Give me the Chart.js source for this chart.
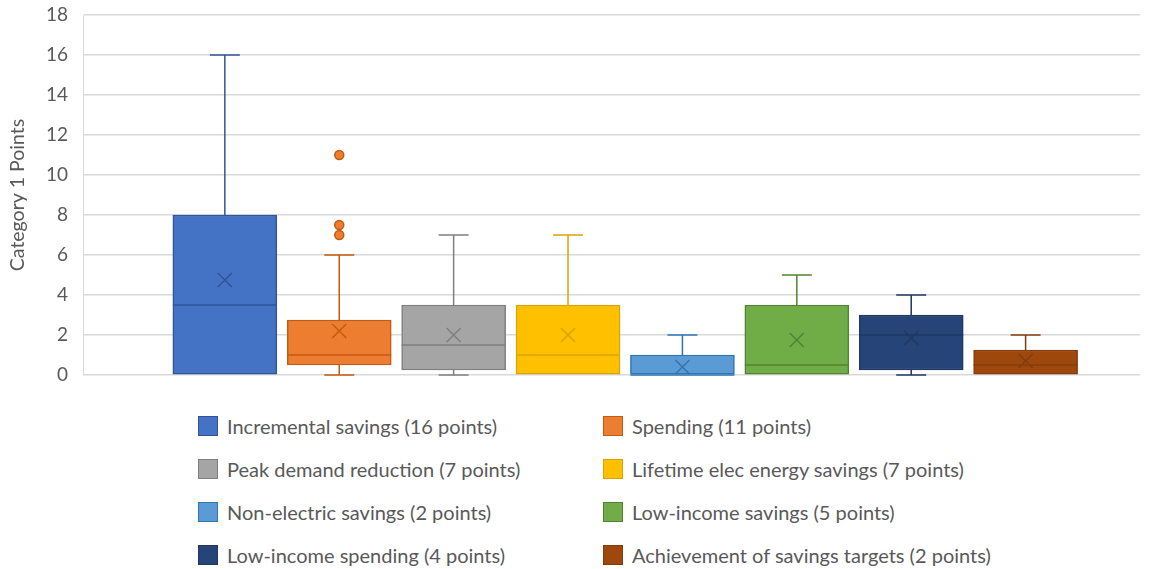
<!DOCTYPE html>
<html>
<head>
<meta charset="utf-8">
<script src="https://cdn.jsdelivr.net/npm/chart.js@4"></script>
<style>
  body { margin: 0; background: #fff; }
  #wrap { position: relative; width: 1169px; height: 569px; }
  #chartBox { position: absolute; left: 0; top: 0; width: 1169px; height: 395px; }
  #legend {
    position: absolute; left: 198px; top: 404px;
    display: grid; grid-template-columns: 405px auto; grid-auto-rows: 43px;
    font-family: Lato, "Open Sans", sans-serif; font-size: 20px; color: #595959;
  }
  .item { display: flex; align-items: center; }
  .swatch { width: 20px; height: 20px; margin-right: 9px; box-sizing: border-box; border: 1px solid; }
</style>
</head>
<body>
<div id="wrap">
  <div id="chartBox"><canvas id="boxChart"></canvas></div>
  <div id="legend"></div>
</div>
<script>
// Box plot stats per series
const seriesLabels = [
  'Incremental savings (16 points)',
  'Spending (11 points)',
  'Peak demand reduction (7 points)',
  'Lifetime elec energy savings (7 points)',
  'Non-electric savings (2 points)',
  'Low-income savings (5 points)',
  'Low-income spending (4 points)',
  'Achievement of savings targets (2 points)'
];
const minVals = [0, 0, 0, 0, 0, 0, 0, 0];
const q1Vals = [0, 0.5, 0.25, 0, 0, 0, 0.25, 0];
const medianVals = [3.5, 1, 1.5, 1, 0, 0.5, 2, 0.5];
const q3Vals = [8, 2.75, 3.5, 3.5, 1, 3.5, 3, 1.25];
const maxVals = [16, 6, 7, 7, 2, 5, 4, 2];
const meanVals = [4.75, 2.2, 2, 2, 0.4, 1.75, 1.85, 0.7];
const outlierVals = [[], [11, 7.5, 7], [], [], [], [], [], []];
const yTicks = [0, 2, 4, 6, 8, 10, 12, 14, 16, 18];

const fillColors = ['#4472C4', '#ED7D31', '#A5A5A5', '#FFC000', '#5B9BD5', '#70AD47', '#264478', '#9E480E'];
const lineColors = ['#2F5597', '#C55A11', '#7F7F7F', '#D9A400', '#2E75B6', '#548235', '#1F3864', '#843C0C'];

// whiskers, medians, means and outliers
const boxExtras = {
  id: 'boxExtras',
  afterDatasetsDraw(chart) {
    const ctx = chart.ctx;
    const y = chart.scales.y;
    chart.data.datasets.forEach((ds, i) => {
      const el = chart.getDatasetMeta(i).data[0];
      if (!el) return;
      const cx = el.x, half = el.width / 2, cap = 15;
      ctx.save();
      ctx.strokeStyle = lineColors[i];
      ctx.lineWidth = 1.5;
      ctx.beginPath();
      // upper whisker
      if (maxVals[i] > q3Vals[i]) {
        ctx.moveTo(cx, y.getPixelForValue(q3Vals[i]));
        ctx.lineTo(cx, y.getPixelForValue(maxVals[i]));
        ctx.moveTo(cx - cap, y.getPixelForValue(maxVals[i]));
        ctx.lineTo(cx + cap, y.getPixelForValue(maxVals[i]));
      }
      // lower whisker
      if (minVals[i] < q1Vals[i]) {
        ctx.moveTo(cx, y.getPixelForValue(q1Vals[i]));
        ctx.lineTo(cx, y.getPixelForValue(minVals[i]));
        ctx.moveTo(cx - cap, y.getPixelForValue(minVals[i]));
        ctx.lineTo(cx + cap, y.getPixelForValue(minVals[i]));
      }
      // median
      const my = y.getPixelForValue(medianVals[i]);
      ctx.moveTo(cx - half, my);
      ctx.lineTo(cx + half, my);
      // mean marker
      const ay = y.getPixelForValue(meanVals[i]), s = 7;
      ctx.moveTo(cx - s, ay - s); ctx.lineTo(cx + s, ay + s);
      ctx.moveTo(cx - s, ay + s); ctx.lineTo(cx + s, ay - s);
      ctx.stroke();
      // outliers
      ctx.fillStyle = fillColors[i];
      outlierVals[i].forEach(v => {
        ctx.beginPath();
        ctx.arc(cx, y.getPixelForValue(v), 4.5, 0, Math.PI * 2);
        ctx.fill();
        ctx.stroke();
      });
      ctx.restore();
    });
  }
};

// one box per series, placed at positions 1..8 on a linear x axis
const datasets = seriesLabels.map((label, i) => ({
  label: label,
  data: [{ x: i + 1, y: [q1Vals[i], q3Vals[i]] }],
  backgroundColor: fillColors[i],
  borderColor: lineColors[i],
  borderWidth: 1.5,
  borderSkipped: false,
  barThickness: 104,
  grouped: false
}));

new Chart(document.getElementById('boxChart'), {
  type: 'bar',
  data: { datasets: datasets },
  options: {
    responsive: true,
    maintainAspectRatio: false,
    animation: false,
    layout: { padding: { top: 15, right: 29, bottom: 20, left: 0 } },
    plugins: { legend: { display: false }, tooltip: { enabled: false } },
    scales: {
      x: { type: 'linear', min: -0.24, max: 9, offset: false, display: false },
      y: {
        min: 0, max: 18,
        afterBuildTicks: s => { s.ticks = yTicks.map(v => ({ value: v })); },
        afterFit: s => { s.width = 83; },
        border: { display: true, color: '#D9D9D9' },
        grid: { color: '#D9D9D9', lineWidth: 1.5, drawTicks: true, tickLength: 12, tickColor: 'rgba(0,0,0,0)' },
        ticks: { color: '#595959', padding: 3, font: { family: 'Lato, "Open Sans", sans-serif', size: 19 } },
        title: {
          display: true, text: 'Category 1 Points', color: '#595959',
          padding: { top: 6, bottom: 0 },
          font: { family: 'Lato, "Open Sans", sans-serif', size: 19.5 }
        }
      }
    }
  },
  plugins: [boxExtras]
});

// two-column legend below the chart
const legendEl = document.getElementById('legend');
seriesLabels.forEach((label, i) => {
  const item = document.createElement('div');
  item.className = 'item';
  item.innerHTML = '<span class="swatch" style="background:' + fillColors[i] + ';border-color:' + lineColors[i] + '"></span><span>' + label + '</span>';
  legendEl.appendChild(item);
});
</script>
</body>
</html>
